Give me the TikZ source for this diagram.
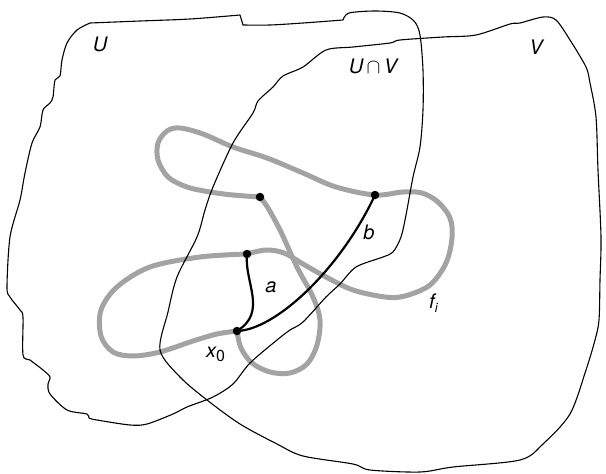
\documentclass[tikz,border=0pt]{standalone}
\usepackage{fontspec}
\setmainfont{TeX Gyre Heros}
\begin{document}
\begin{tikzpicture}[x=1pt,y=-1pt,
  boundary/.style={draw=black,line width=1.1pt,line join=round},
  loopline/.style={draw=black!36,line width=5pt,line cap=round,line join=round},
  pathline/.style={draw=black,line width=2.2pt,line cap=round},
  dot/.style={circle,fill=black,inner sep=0pt,minimum size=8.5pt},
  lbl/.style={font=\fontsize{20}{24}\selectfont\itshape,inner sep=0pt}]
\useasboundingbox (0,0) rectangle (606,474);

% gray loop f_i
\draw[loopline] plot[smooth,tension=0.55] coordinates {
  (237,331) (241,348) (252,363) (270,372) (290,373) (307,364) (317,345) (320,320)
  (313,297) (297,267) (281,232) (268,208) (260,197)};
\draw[loopline] plot[smooth,tension=0.55] coordinates {
  (260,197) (233,195) (210,192) (187,187) (168,177) (158,160) (158,143) (167,131)
  (180,128) (203,134) (233,147) (267,158) (303,173) (336,187) (375,195) (403,192)
  (422,193) (438,202) (450,218) (452,238) (446,263) (430,285) (405,296) (385,297)
  (353,290) (326,277) (303,264) (284,253) (266,250) (247,254)};
\draw[loopline] plot[smooth,tension=0.55] coordinates {
  (247,254) (200,257) (150,267)
  (117,287) (101,310) (101,336) (113,352) (133,356) (160,352) (193,341) (217,334) (237,331)};

% region U
\draw[boundary] plot[smooth,tension=0.5] coordinates {
  (90,23) (140,21) (190,19) (240,15)} -- (243,25) --
  plot[smooth,tension=0.5] coordinates {(243,25) (270,25) (303,23) (343,20)} --
  plot[smooth,tension=0.5] coordinates {(343,20) (349,13) (375,11) (400,13) (414,21) (420,35)
  (423,70) (423,110) (420,147) (413,177) (406,215) (401,237) (393,252) (383,257)
  (356,267) (340,284) (326,297) (303,322) (290,330) (277,340) (250,363) (233,384)
  (213,397) (187,407) (173,414) (147,424) (130,425) (97,420) (89,418) (87,414) (67,410)
  (50,394) (48,384) (50,377) (43,370) (30,360) (23,355) (23,317) (20,310) (10,297)
  (7,287) (10,237) (20,200) (25,173) (32,143) (40,127) (43,110) (50,103) (53,97)
  (55,80) (60,76) (62,60) (67,43) (77,30) (90,23)};

% region V
\draw[boundary] plot[smooth cycle,tension=0.5] coordinates {
  (303,67) (326,50) (353,47) (390,43) (400,40) (443,37) (476,35) (510,24) (520,23)
  (543,17) (556,20) (570,40) (586,67) (590,83) (596,117) (598,170) (601,237)
  (600,280) (599,320) (595,340) (586,370) (570,414) (543,444) (520,460) (453,467)
  (420,472) (370,470) (353,464) (303,456) (277,444) (240,424) (207,400) (180,377)
  (160,350) (168,312) (177,277) (197,237) (205,210) (213,187) (233,143) (253,113)
  (258,101) (273,87) (283,76)};

% points
\node[dot] (x0) at (237,331) {};
\node[dot] (p1) at (260,197) {};
\node[dot] (p3) at (247,254) {};
\node[dot] (pb) at (375,195) {};

% paths a and b
\draw[pathline] (x0.center) .. controls (268,312) and (244,282) .. (p3.center);
\draw[pathline] (x0.center) .. controls (275,330) and (340,270) .. (pb.center);

% labels
\node[lbl] (lU) at (100,44) {U};
\node[lbl] (lUV) at (373,66) {U\,$\cap$\,V};
\node[lbl] (lV) at (536,47) {V};
\node[lbl] (la) at (271,287) {a};
\node[lbl] (lb) at (369,232) {b};
\node[lbl,anchor=base west] (lf) at (429,308) {f\raisebox{-0.45ex}{\fontsize{13}{15}\selectfont i}};
\node[lbl,anchor=base west] (lx) at (206,357) {x\raisebox{-0.45ex}{\fontsize{16}{18}\selectfont\upshape 0}};
\end{tikzpicture}
\end{document}
